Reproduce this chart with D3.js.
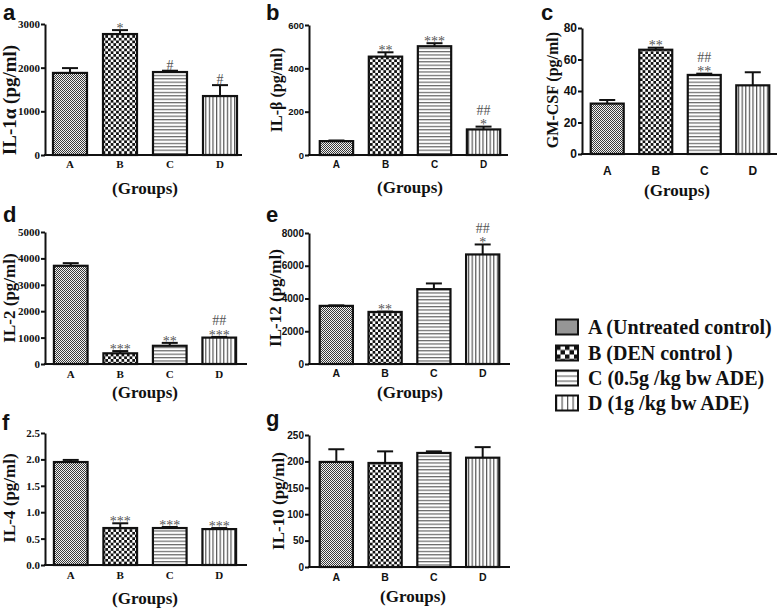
<!DOCTYPE html>
<html>
<head>
<meta charset="utf-8">
<script src="https://cdn.jsdelivr.net/npm/d3@7"></script>
<style>
  body { margin: 0; background: #fff; }
</style>
</head>
<body>
<svg id="chart" width="778" height="611"></svg>
<script>
// groups + legend
const groups = ["A", "B", "C", "D"];
const legendLabels = ["A (Untreated control)", "B (DEN control )", "C (0.5g /kg bw ADE)", "D (1g /kg bw ADE)"];

// mean and SEM per cytokine
const il1aMean = [1880, 2770, 1900, 1350];
const il1aSem = [110, 90, 30, 250];
const il1aTicks = [0, 1000, 2000, 3000];
const il1aMarks = [[], ["*"], ["#"], ["#"]];

const ilbMean = [64, 454, 502, 118];
const ilbSem = [3, 20, 14, 13];
const ilbTicks = [0, 200, 400, 600];
const ilbMarks = [[], ["**"], ["***"], ["*", "##"]];

const gmcsfMean = [32, 66.2, 50.2, 43.6];
const gmcsfSem = [2.3, 1.3, 0.8, 8.3];
const gmcsfTicks = [0, 20, 40, 60, 80];
const gmcsfMarks = [[], ["**"], ["**", "##"], []];

const il2Mean = [3720, 405, 690, 1000];
const il2Sem = [100, 85, 110, 25];
const il2Ticks = [0, 1000, 2000, 3000, 4000, 5000];
const il2Marks = [[], ["***"], ["**"], ["***", "##"]];

const il12Mean = [3550, 3180, 4570, 6690];
const il12Sem = [30, 20, 350, 610];
const il12Ticks = [0, 2000, 4000, 6000, 8000];
const il12Marks = [[], ["**"], [], ["*", "##"]];

const il4Mean = [1.95, 0.70, 0.70, 0.68];
const il4Sem = [0.04, 0.09, 0.02, 0.02];
const il4Ticks = [0, 0.5, 1.0, 1.5, 2.0, 2.5];
const il4Marks = [[], ["***"], ["***"], ["***"]];

const il10Mean = [199, 197, 216, 207];
const il10Sem = [24, 22, 3, 20];
const il10Ticks = [0, 50, 100, 150, 200, 250];
const il10Marks = [[], [], [], []];

var svg = d3.select("#chart");
var defs = svg.append("defs");

// fill patterns, like the graphpad ones
function makePattern(id, kind, s, ox, oy) {
  var p = defs.append("pattern").attr("id", id)
    .attr("patternUnits", "userSpaceOnUse")
    .attr("x", ox || 0).attr("y", oy || 0);
  if (kind == "fine") {
    p.attr("width", s * 2).attr("height", s * 2);
    p.append("rect").attr("width", s * 2).attr("height", s * 2).attr("fill", "#f2f2f2");
    p.append("rect").attr("width", s).attr("height", s).attr("fill", "#3a3a3a");
    p.append("rect").attr("x", s).attr("y", s).attr("width", s).attr("height", s).attr("fill", "#3a3a3a");
  } else if (kind == "check") {
    p.attr("width", s * 2).attr("height", s * 2);
    p.append("rect").attr("width", s * 2).attr("height", s * 2).attr("fill", "#fff");
    p.append("rect").attr("width", s).attr("height", s).attr("fill", "#111");
    p.append("rect").attr("x", s).attr("y", s).attr("width", s).attr("height", s).attr("fill", "#111");
  } else if (kind == "hline") {
    p.attr("width", 10).attr("height", s);
    p.append("rect").attr("width", 10).attr("height", s).attr("fill", "#fff");
    p.append("rect").attr("width", 10).attr("height", 1.2).attr("fill", "#666");
  } else {
    p.attr("width", s).attr("height", 10);
    p.append("rect").attr("width", s).attr("height", 10).attr("fill", "#fff");
    p.append("rect").attr("width", 1.2).attr("height", 10).attr("fill", "#555");
  }
}
makePattern("patA", "fine", 1);
makePattern("patB", "check", 2.7);
makePattern("patC", "hline", 3.4);
makePattern("patD", "vline", 3.6);

var layout = [
  { mean: il1aMean, sem: il1aSem, ticks: il1aTicks, marks: il1aMarks, fmt: d3.format("d"), title: "IL-1α (pg/ml)", letter: "a",
    ax: 45, x1: 245, xEnd: 242, y0: 155, yTop: 24, po: 0.16, sans: false, tickFs: 11, xFs: 11, xPad: 5,
    titleFs: 19, tx: 9, ty: 100, gx: 145, gy: 194, lx: 3, ly: 20 },
  { mean: ilbMean, sem: ilbSem, ticks: ilbTicks, marks: ilbMarks, fmt: d3.format("d"), title: "IL-β (pg/ml)", letter: "b",
    ax: 309, x1: 511, xEnd: 508, y0: 155, yTop: 25, po: 0.22, sans: true, tickFs: 9.5, xFs: 10, xPad: 6,
    titleFs: 16, tx: 276, ty: 90, gx: 410, gy: 193, lx: 266, ly: 20 },
  { mean: gmcsfMean, sem: gmcsfSem, ticks: gmcsfTicks, marks: gmcsfMarks, fmt: d3.format("d"), title: "GM-CSF (pg/ml)", letter: "c",
    ax: 582, x1: 778, xEnd: 777, y0: 154, yTop: 28, po: 0.18, sans: true, tickFs: 12, xFs: 12, xPad: 12,
    titleFs: 16, tx: 552, ty: 90, gx: 677, gy: 196, lx: 541, ly: 20 },
  { mean: il2Mean, sem: il2Sem, ticks: il2Ticks, marks: il2Marks, fmt: d3.format("d"), title: "IL-2 (pg/ml)", letter: "d",
    ax: 45, x1: 245, xEnd: 247, y0: 364, yTop: 232, po: 0.18, sans: false, tickFs: 11, xFs: 11, xPad: 6,
    titleFs: 17, tx: 9, ty: 298, gx: 145, gy: 398, lx: 3, ly: 222 },
  { mean: il12Mean, sem: il12Sem, ticks: il12Ticks, marks: il12Marks, fmt: d3.format("d"), title: "IL-12 (pg/ml)", letter: "e",
    ax: 309, x1: 510, xEnd: 510, y0: 364, yTop: 233, po: 0.22, sans: true, tickFs: 10, xFs: 10.5, xPad: 6,
    titleFs: 17, tx: 275, ty: 298, gx: 410, gy: 398, lx: 266, ly: 222 },
  { mean: il4Mean, sem: il4Sem, ticks: il4Ticks, marks: il4Marks, fmt: d3.format(".1f"), title: "IL-4 (pg/ml)", letter: "f",
    ax: 45, x1: 245, xEnd: 247, y0: 565, yTop: 433, po: 0.18, sans: false, tickFs: 11, xFs: 11, xPad: 6,
    titleFs: 17, tx: 9, ty: 498, gx: 145, gy: 604, lx: 2, ly: 430 },
  { mean: il10Mean, sem: il10Sem, ticks: il10Ticks, marks: il10Marks, fmt: d3.format("d"), title: "IL-10 (pg/ml)", letter: "g",
    ax: 309, x1: 510, xEnd: 510, y0: 567, yTop: 435, po: 0.22, sans: true, tickFs: 10, xFs: 10.5, xPad: 7,
    titleFs: 17, tx: 278, ty: 501, gx: 413, gy: 602, lx: 266, ly: 426 }
];

var SERIF = "'Liberation Serif', 'Times New Roman', serif";
var SANS = "'Liberation Sans', Arial, sans-serif";

layout.forEach(function (p) {
  var g = svg.append("g");
  var x = d3.scaleBand().domain(groups).range([p.ax, p.x1]).paddingInner(0.32).paddingOuter(p.po);
  var y = d3.scaleLinear().domain([0, d3.max(p.ticks)]).range([p.y0, p.yTop]);
  var bw = x.bandwidth();

  g.selectAll(".bar").data(p.mean).join("rect")
    .attr("class", "bar")
    .attr("x", (d, i) => x(groups[i]))
    .attr("y", (d) => y(d))
    .attr("width", bw)
    .attr("height", (d) => p.y0 - y(d))
    .attr("fill", (d, i) => "url(#pat" + groups[i] + ")")
    .attr("stroke", "#111")
    .attr("stroke-width", 2.2);

  // error bars, upper side only
  var err = g.selectAll(".err").data(p.mean).join("g").attr("class", "err");
  err.append("line")
    .attr("x1", (d, i) => x(groups[i]) + bw / 2)
    .attr("x2", (d, i) => x(groups[i]) + bw / 2)
    .attr("y1", (d) => y(d))
    .attr("y2", (d, i) => y(d + p.sem[i]))
    .attr("stroke", "#111").attr("stroke-width", 2);
  err.append("line")
    .attr("x1", (d, i) => x(groups[i]) + bw / 2 - 8)
    .attr("x2", (d, i) => x(groups[i]) + bw / 2 + 8)
    .attr("y1", (d, i) => y(d + p.sem[i]))
    .attr("y2", (d, i) => y(d + p.sem[i]))
    .attr("stroke", "#111").attr("stroke-width", 2);

  // significance marks stacked above the cap
  var fs = 14;
  p.mean.forEach(function (m, i) {
    var bottom = y(m + p.sem[i]) - 1;
    p.marks[i].forEach(function (s) {
      var star = s.indexOf("*") >= 0;
      var base = star ? bottom + 0.27 * fs : bottom;
      g.append("text")
        .attr("x", x(groups[i]) + bw / 2)
        .attr("y", base)
        .attr("text-anchor", "middle")
        .style("font-family", SERIF)
        .style("font-size", fs + "px")
        .attr("fill", "#555")
        .text(s);
      bottom = star ? bottom - 0.42 * fs - 5 : bottom - 0.68 * fs - 5;
    });
  });

  // axes
  var yAxis = g.append("g").attr("transform", `translate(${p.ax},0)`)
    .call(d3.axisLeft(y).tickValues(p.ticks).tickFormat(p.fmt).tickSize(4).tickSizeOuter(0).tickPadding(1));
  yAxis.select(".domain").attr("stroke", "#111").attr("stroke-width", 2);
  yAxis.selectAll(".tick line").attr("stroke", "#111").attr("stroke-width", 2);
  yAxis.selectAll("text")
    .style("font-family", p.sans ? SANS : SERIF)
    .style("font-weight", "bold")
    .style("font-size", p.tickFs + "px")
    .attr("fill", "#111");

  var xAxis = g.append("g").attr("transform", `translate(0,${p.y0})`)
    .call(d3.axisBottom(x).tickSize(0).tickPadding(p.xPad));
  xAxis.select(".domain").remove();
  xAxis.selectAll("text")
    .style("font-family", p.sans ? SANS : SERIF)
    .style("font-weight", "bold")
    .style("font-size", p.xFs + "px")
    .attr("fill", "#111");
  g.append("line")
    .attr("x1", p.ax - 1).attr("x2", p.xEnd)
    .attr("y1", p.y0).attr("y2", p.y0)
    .attr("stroke", "#111").attr("stroke-width", 2);

  // titles
  g.append("text")
    .attr("transform", `translate(${p.tx},${p.ty}) rotate(-90)`)
    .attr("dy", "0.35em")
    .attr("text-anchor", "middle")
    .style("font-family", SERIF)
    .style("font-weight", "bold")
    .style("font-size", p.titleFs + "px")
    .attr("fill", "#111")
    .text(p.title);

  g.append("text")
    .attr("x", p.gx).attr("y", p.gy)
    .attr("text-anchor", "middle")
    .style("font-family", SERIF)
    .style("font-weight", "bold")
    .style("font-size", "17px")
    .attr("fill", "#111")
    .text("(Groups)");

  g.append("text")
    .attr("x", p.lx).attr("y", p.ly)
    .style("font-family", SANS)
    .style("font-weight", "bold")
    .style("font-size", "22px")
    .attr("fill", "#111")
    .text(p.letter);
});

// legend
var legRows = [327, 353, 378, 403];
var legKinds = ["fine", "check", "hline", "vline"];
var legSizes = [1, 4.5, 5, 5.5];
var legend = svg.append("g");
legendLabels.forEach(function (lab, i) {
  var ry = legRows[i] - 7.5;
  makePattern("legPat" + i, legKinds[i], legSizes[i], 556, ry);
  legend.append("rect")
    .attr("x", 556).attr("y", ry)
    .attr("width", 22).attr("height", 15)
    .attr("fill", "url(#legPat" + i + ")")
    .attr("stroke", "#111").attr("stroke-width", 2);
  legend.append("text")
    .attr("x", 588).attr("y", legRows[i] + 7)
    .style("font-family", SERIF)
    .style("font-weight", "bold")
    .style("font-size", "20px")
    .attr("fill", "#111")
    .text(lab);
});
</script>
</body>
</html>
